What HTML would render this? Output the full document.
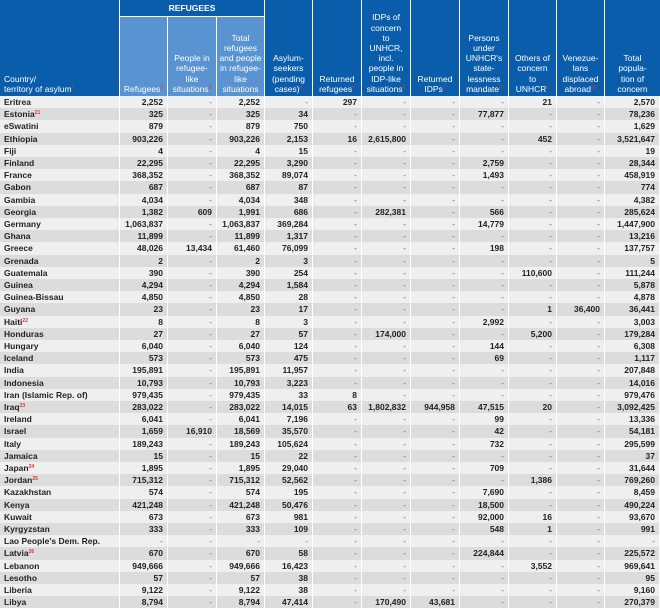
<!DOCTYPE html>
<html><head><meta charset="utf-8"><style>
body{margin:0;width:660px;height:596px;overflow:hidden;background:#fff;font-family:"Liberation Sans",sans-serif;}
#c{position:relative;width:660px;height:596px;}
.h{position:absolute;background:#0a5dab;color:#fff;font-size:8.5px;line-height:10.2px;text-align:center;display:flex;flex-direction:column;justify-content:flex-end;padding-bottom:2px;box-sizing:border-box;}
.s{background:#5a93d2;}
.r{position:absolute;left:0;width:660px;}
.cell{position:absolute;top:0;height:100%;box-sizing:border-box;font-size:8.5px;font-weight:bold;color:#222;text-align:right;padding-right:4px;border-right:1px solid #fff;white-space:nowrap;}
.cell.f{text-align:left;padding-left:4px;}
sup{color:#e03030;font-size:5px;vertical-align:baseline;position:relative;top:-3px;line-height:0;}
</style></head><body><div id="c"></div>
<script>
var W=[120,48,49,48,48,49,49,49,49,48,48,55],X=[0];for(var i=0;i<W.length;i++)X.push(X[i]+W[i]);
var c=document.getElementById('c'),H='';
function hd(x,y,w,h,t,cls,al){H+='<div class="h '+(cls||'')+'" style="left:'+x+'px;top:'+y+'px;width:'+w+'px;height:'+h+'px;'+(al?'text-align:left;padding-left:4px;':'')+'"><div>'+t+'</div></div>';}
var sp=function(n){return '<sup>'+n+'</sup>'};
hd(0,0,119,96,'Country/<br>territory of asylum'+sp(1),'',1);
H+='<div class="h" style="left:120px;top:0;width:144px;height:16px;justify-content:center;padding:0"><b>REFUGEES</b></div>';
hd(120,17,47,79,'Refugees'+sp(2),'s');
hd(168,17,48,79,'People in<br>refugee-<br>like<br>situations'+sp(3),'s');
hd(217,17,47,79,'Total<br>refugees<br>and people<br>in refugee-<br>like<br>situations','s');
var ht=['Asylum-<br>seekers<br>(pending<br>cases)'+sp(4),'Returned<br>refugees'+sp(5),'IDPs of<br>concern<br>to<br>UNHCR,<br>incl.<br>people in<br>IDP-like<br>situations'+sp(6),'Returned<br>IDPs'+sp(7),'Persons<br>under<br>UNHCR\'s<br>state-<br>lessness<br>mandate'+sp(8),'Others of<br>concern<br>to<br>UNHCR'+sp(9),'Venezue-<br>lans<br>displaced<br>abroad'+sp(10),'Total<br>popula-<br>tion of<br>concern'];
for(var k=0;k<8;k++){var j=k+4;hd(X[j],0,W[j]-(j==11?0:1),96,ht[k]);}
var D=`Eritrea|2,252|-|2,252|-|297|-|-|-|21|-|2,570
Estonia${sp(21)}|325|-|325|34|-|-|-|77,877|-|-|78,236
eSwatini|879|-|879|750|-|-|-|-|-|-|1,629
Ethiopia|903,226|-|903,226|2,153|16|2,615,800|-|-|452|-|3,521,647
Fiji|4|-|4|15|-|-|-|-|-|-|19
Finland|22,295|-|22,295|3,290|-|-|-|2,759|-|-|28,344
France|368,352|-|368,352|89,074|-|-|-|1,493|-|-|458,919
Gabon|687|-|687|87|-|-|-|-|-|-|774
Gambia|4,034|-|4,034|348|-|-|-|-|-|-|4,382
Georgia|1,382|609|1,991|686|-|282,381|-|566|-|-|285,624
Germany|1,063,837|-|1,063,837|369,284|-|-|-|14,779|-|-|1,447,900
Ghana|11,899|-|11,899|1,317|-|-|-|-|-|-|13,216
Greece|48,026|13,434|61,460|76,099|-|-|-|198|-|-|137,757
Grenada|2|-|2|3|-|-|-|-|-|-|5
Guatemala|390|-|390|254|-|-|-|-|110,600|-|111,244
Guinea|4,294|-|4,294|1,584|-|-|-|-|-|-|5,878
Guinea-Bissau|4,850|-|4,850|28|-|-|-|-|-|-|4,878
Guyana|23|-|23|17|-|-|-|-|1|36,400|36,441
Haiti${sp(22)}|8|-|8|3|-|-|-|2,992|-|-|3,003
Honduras|27|-|27|57|-|174,000|-|-|5,200|-|179,284
Hungary|6,040|-|6,040|124|-|-|-|144|-|-|6,308
Iceland|573|-|573|475|-|-|-|69|-|-|1,117
India|195,891|-|195,891|11,957|-|-|-|-|-|-|207,848
Indonesia|10,793|-|10,793|3,223|-|-|-|-|-|-|14,016
Iran (Islamic Rep. of)|979,435|-|979,435|33|8|-|-|-|-|-|979,476
Iraq${sp(23)}|283,022|-|283,022|14,015|63|1,802,832|944,958|47,515|20|-|3,092,425
Ireland|6,041|-|6,041|7,196|-|-|-|99|-|-|13,336
Israel|1,659|16,910|18,569|35,570|-|-|-|42|-|-|54,181
Italy|189,243|-|189,243|105,624|-|-|-|732|-|-|295,599
Jamaica|15|-|15|22|-|-|-|-|-|-|37
Japan${sp(24)}|1,895|-|1,895|29,040|-|-|-|709|-|-|31,644
Jordan${sp(25)}|715,312|-|715,312|52,562|-|-|-|-|1,386|-|769,260
Kazakhstan|574|-|574|195|-|-|-|7,690|-|-|8,459
Kenya|421,248|-|421,248|50,476|-|-|-|18,500|-|-|490,224
Kuwait|673|-|673|981|-|-|-|92,000|16|-|93,670
Kyrgyzstan|333|-|333|109|-|-|-|548|1|-|991
Lao People's Dem. Rep.|-|-|-|-|-|-|-|-|-|-|-
Latvia${sp(26)}|670|-|670|58|-|-|-|224,844|-|-|225,572
Lebanon|949,666|-|949,666|16,423|-|-|-|-|3,552|-|969,641
Lesotho|57|-|57|38|-|-|-|-|-|-|95
Liberia|9,122|-|9,122|38|-|-|-|-|-|-|9,160
Libya|8,794|-|8,794|47,414|-|170,490|43,681|-|-|-|270,379`.split('\n');
var RH=12.2;
D.forEach(function(l,i){var p=l.split('|'),y=96+i*RH;
H+='<div class="r" style="top:'+y.toFixed(1)+'px;height:'+RH+'px;line-height:'+RH+'px;background:'+(i%2?'#dcdcdc':'#efefef')+'">';
p.forEach(function(v,j){H+='<div class="cell'+(j==0?' f':'')+'" style="left:'+X[j]+'px;width:'+W[j]+'px;'+(v=='-'?'font-weight:normal;color:#666;':'')+'">'+v+'</div>';});
H+='</div>';});
c.innerHTML=H;
</script></body></html>
